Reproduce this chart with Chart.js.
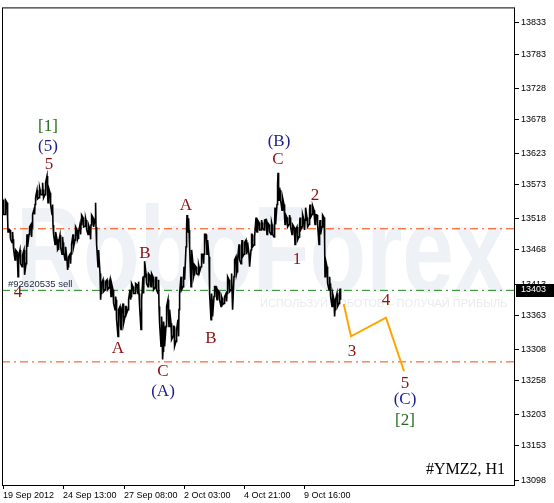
<!DOCTYPE html>
<html>
<head>
<meta charset="utf-8">
<script src="https://cdn.jsdelivr.net/npm/chart.js@4"></script>
<style>
html, body { margin: 0; padding: 0; background: #fff; }
</style>
</head>
<body>
<canvas id="myChart" width="554" height="503"></canvas>
<script>
// H1 bars: index, high, low
var bars = [0,2,4,5,7,9,10,12,14,15,17,19,21,23,24,26,28,29,31,32,34,36,37,39,40,42,44,45,47,49,50,52,54,55,57,59,60,62,64,65,
  67,68,70,72,74,75,77,78,80,82,83,85,87,88,90,92,93,95,97,98,100,102,104,106,107,108,110,112,113,115,117,118,120,122,123,125,127,128,130,132,134,
  135,136,138,140,141,143,145,147,148,150,152,153,155,156,158,159,160,161,163,165,166,168,170,171,173,175,176,178,180,181,183,184,185,186,188,190,191,193,195,196,198,200,201,203,
  204,206,208,209,211,213,214,216,218,219,221,223,224,226,228,229,231,233,234,236,238,239,241,243,244,246,248,249,251,253,254,256,258,259,261,263,264,266,268,269,
  271,272,274,275,276,277,279,281,282,284,286,287,289,291,292,294,296,297,299,301,302,304,306,307,309,311,312,314,316,317,319,321,322,324,326,327,329,331,332,334,336,337];
var highs = [13549,13548,13544,13501,13500,13497,13485,13468,13465,13457,13468,13460,13468,13473,13493,13505,13509,13525,13533,13552,13564,13568,13565,13576,13565,13576,13587,13568,13560,13541,13508,13497,13485,13480,13492,13489,13480,13473,13452,13457,
  13461,13477,13493,13505,13500,13497,13509,13524,13520,13519,13516,13508,13501,13524,13520,13544,13505,13468,13430,13414,13420,13417,13420,13417,13420,13414,13404,13393,13388,13372,13377,13366,13382,13377,13377,13388,13404,13414,13409,13414,13412,
  13417,13398,13388,13425,13450,13430,13430,13427,13430,13425,13420,13425,13420,13377,13361,13345,13353,13345,13377,13388,13372,13350,13345,13345,13340,13356,13398,13425,13425,13441,13505,13524,13519,13500,13468,13446,13444,13441,13444,13441,13461,13461,13493,13493,
  13484,13457,13398,13388,13409,13409,13404,13401,13393,13391,13393,13398,13425,13420,13430,13404,13452,13457,13452,13477,13473,13484,13480,13484,13480,13461,13493,13493,13489,13520,13516,13512,13516,13512,13516,13517,13512,13509,13512,13509,
  13509,13536,13573,13592,13568,13564,13552,13541,13525,13520,13524,13520,13509,13505,13500,13505,13509,13520,13525,13516,13536,13520,13532,13541,13539,13532,13525,13524,13505,13516,13524,13520,13452,13441,13425,13414,13398,13388,13388,13398,13398,13406];
var lows = [13525,13525,13520,13497,13485,13480,13469,13452,13446,13425,13446,13441,13428,13446,13473,13493,13489,13505,13525,13541,13550,13552,13557,13557,13552,13557,13560,13544,13541,13525,13493,13477,13468,13469,13473,13461,13465,13452,13436,13441,
  13446,13461,13473,13484,13485,13487,13493,13509,13505,13506,13501,13493,13485,13508,13505,13517,13477,13441,13388,13398,13401,13404,13404,13407,13404,13393,13382,13372,13356,13329,13345,13340,13350,13361,13366,13372,13388,13393,13398,13398,13401,
  13398,13377,13340,13398,13425,13414,13409,13411,13409,13404,13407,13404,13398,13350,13313,13292,13305,13313,13345,13356,13345,13324,13329,13313,13321,13329,13372,13404,13409,13420,13473,13500,13497,13473,13409,13425,13428,13430,13428,13433,13441,13446,13461,13477,
  13461,13398,13356,13361,13393,13393,13388,13388,13377,13380,13382,13385,13398,13401,13404,13372,13425,13430,13433,13452,13446,13457,13461,13461,13465,13441,13468,13473,13476,13500,13497,13500,13500,13503,13500,13501,13493,13497,13493,13493,
  13489,13509,13541,13568,13548,13548,13532,13520,13509,13505,13509,13505,13493,13493,13477,13484,13489,13500,13505,13500,13516,13505,13509,13520,13525,13516,13509,13509,13477,13493,13505,13484,13425,13414,13404,13393,13377,13361,13372,13377,13382,13388];

// forecast path 3-4-5
var fcBars = [340.7, 348, 383, 401];
var fcPrices = [13381, 13329, 13359, 13273];

// horizontal levels
var orderPrice = 13403;
var levelPrices = [13502, 13288];

var yTicks = [13098, 13153, 13203, 13258, 13308, 13363, 13413, 13468, 13518, 13573, 13623, 13678, 13728, 13783, 13833];
var dateTicks = [0, 60, 121, 181, 241, 301];
var dateLabels = ['19 Sep 2012', '24 Sep 13:00', '27 Sep 08:00', '2 Oct 03:00', '4 Oct 21:00', '9 Oct 16:00'];

// wave marks
var waveText  = ['[1]', '(5)', '5', '4', 'A', 'B', 'C', '(A)', 'A', 'B', '(B)', 'C', '1', '2', '3', '4', '5', '(C)', '[2]'];
var waveBar   = [45, 45, 46, 15, 115, 142, 160, 160, 183, 208, 276, 275, 294, 312, 349, 383, 402, 402, 402];
var wavePrice = [13667, 13635, 13605, 13399, 13310, 13463, 13272, 13241, 13540, 13326, 13642, 13613, 13452, 13556, 13305, 13387, 13253, 13227, 13194];
var waveKind  = ['g', 'b', 'r', 'r', 'r', 'r', 'r', 'b', 'r', 'r', 'b', 'r', 'r', 'r', 'r', 'r', 'r', 'b', 'g'];

var kindColor = { r: '#8b1010', b: '#1c1c8c', g: '#246b24' };

var pricePts = [];
bars.forEach(function (b, i) {
  if (i % 2) pricePts.push({ x: b, y: lows[i] }, { x: b + 0.6, y: highs[i] });
  else pricePts.push({ x: b, y: highs[i] }, { x: b + 0.6, y: lows[i] });
});
var fcPts = fcBars.map(function (b, i) { return { x: b, y: fcPrices[i] }; });

function hline(v, color) {
  return {
    data: [{ x: -1, y: v }, { x: 512, y: v }],
    borderColor: color,
    borderWidth: 1,
    borderDash: [8, 4, 2, 4],
    pointRadius: 0,
    order: 3
  };
}

var bgPlugin = {
  id: 'bg',
  beforeDraw: function (chart) {
    var c = chart.ctx, a = chart.chartArea;
    c.save();
    c.fillStyle = '#fff';
    c.fillRect(0, 0, chart.width, chart.height);
    // RoboForex watermark
    c.fillStyle = '#eef1f5';
    c.font = 'bold 122px "Liberation Sans"';
    c.textBaseline = 'alphabetic';
    c.translate(a.left + 14, a.top + 285);
    c.scale(0.76, 1);
    c.fillText('RoboForex', 0, 0);
    c.restore();
    c.save();
    c.fillStyle = '#e8ebf0';
    c.font = '11px "Liberation Sans"';
    c.textBaseline = 'middle';
    c.fillText('ИСПОЛЬЗУЙ РОБОТОВ – ПОЛУЧАЙ ПРИБЫЛЬ', a.left + 258, a.top + 297);
    c.restore();
  }
};

var marksPlugin = {
  id: 'marks',
  afterDatasetsDraw: function (chart) {
    var c = chart.ctx, a = chart.chartArea, xs = chart.scales.x, ys = chart.scales.y;
    c.save();
    c.textAlign = 'center';
    c.textBaseline = 'middle';
    c.font = '17px "Liberation Serif"';
    waveText.forEach(function (t, i) {
      c.fillStyle = kindColor[waveKind[i]];
      c.fillText(t, xs.getPixelForValue(waveBar[i]), ys.getPixelForValue(wavePrice[i]));
    });
    // order label
    var oy = ys.getPixelForValue(orderPrice);
    c.textAlign = 'left';
    c.font = '9.5px "Liberation Sans"';
    c.fillStyle = '#1c2640';
    c.fillText('#92620535 sell', a.left + 6, oy - 6);
    // symbol
    c.textAlign = 'right';
    c.font = '16px "Liberation Serif"';
    c.fillStyle = '#000';
    c.fillText('#YMZ2, H1', a.right - 10, a.bottom - 15);
    // frame
    c.strokeStyle = '#000';
    c.lineWidth = 1;
    c.strokeRect(a.left + 0.5, a.top + 0.5, a.right - a.left - 1, a.bottom - a.top);
    c.restore();
  },
  afterDraw: function (chart) {
    var c = chart.ctx, a = chart.chartArea, ys = chart.scales.y;
    var oy = Math.round(ys.getPixelForValue(orderPrice));
    c.save();
    c.fillStyle = '#000';
    c.fillRect(a.right + 1, oy - 6, chart.width - a.right - 1, 13);
    c.fillStyle = '#fff';
    c.font = '9px "Liberation Sans"';
    c.textBaseline = 'middle';
    c.fillText(String(orderPrice), a.right + 6, oy);
    c.restore();
  }
};

var ctx = document.getElementById('myChart').getContext('2d');
var myChart = new Chart(ctx, {
  type: 'line',
  data: {
    datasets: [
      {
        data: pricePts,
        borderColor: '#000',
        borderWidth: 1.6,
        pointRadius: 0,
        order: 1
      },
      {
        data: fcPts,
        borderColor: '#ffa500',
        borderWidth: 2,
        pointRadius: 0,
        order: 2
      },
      hline(levelPrices[0], '#ff4500'),
      hline(levelPrices[1], '#ff4500'),
      hline(orderPrice, '#1e8a1e')
    ]
  },
  options: {
    responsive: false,
    animation: false,
    layout: { padding: { left: 2, top: 3, right: 0, bottom: 0 } },
    scales: {
      x: {
        type: 'linear',
        position: 'bottom',
        min: -1,
        max: 512,
        afterBuildTicks: function (scale) {
          scale.ticks = dateTicks.map(function (v) { return { value: v }; });
        },
        afterFit: function (scale) { scale.height = 18; },
        ticks: {
          autoSkip: false,
          maxRotation: 0,
          align: 'start',
          padding: 1,
          color: '#000',
          font: { family: 'Liberation Sans', size: 9 },
          callback: function (v, i) { return dateLabels[i]; }
        },
        grid: { drawOnChartArea: false, tickLength: 4, color: '#000' },
        border: { display: false }
      },
      y: {
        type: 'linear',
        position: 'right',
        min: 13090,
        max: 13858,
        afterBuildTicks: function (scale) {
          scale.ticks = yTicks.map(function (v) { return { value: v }; });
        },
        afterFit: function (scale) { scale.width = 39; },
        ticks: {
          padding: 2,
          color: '#000',
          font: { family: 'Liberation Sans', size: 9 },
          callback: function (v) { return String(v); }
        },
        grid: { drawOnChartArea: false, tickLength: 4, color: '#000' },
        border: { display: false }
      }
    },
    plugins: {
      legend: { display: false },
      tooltip: { enabled: false }
    }
  },
  plugins: [bgPlugin, marksPlugin]
});
</script>
</body>
</html>
